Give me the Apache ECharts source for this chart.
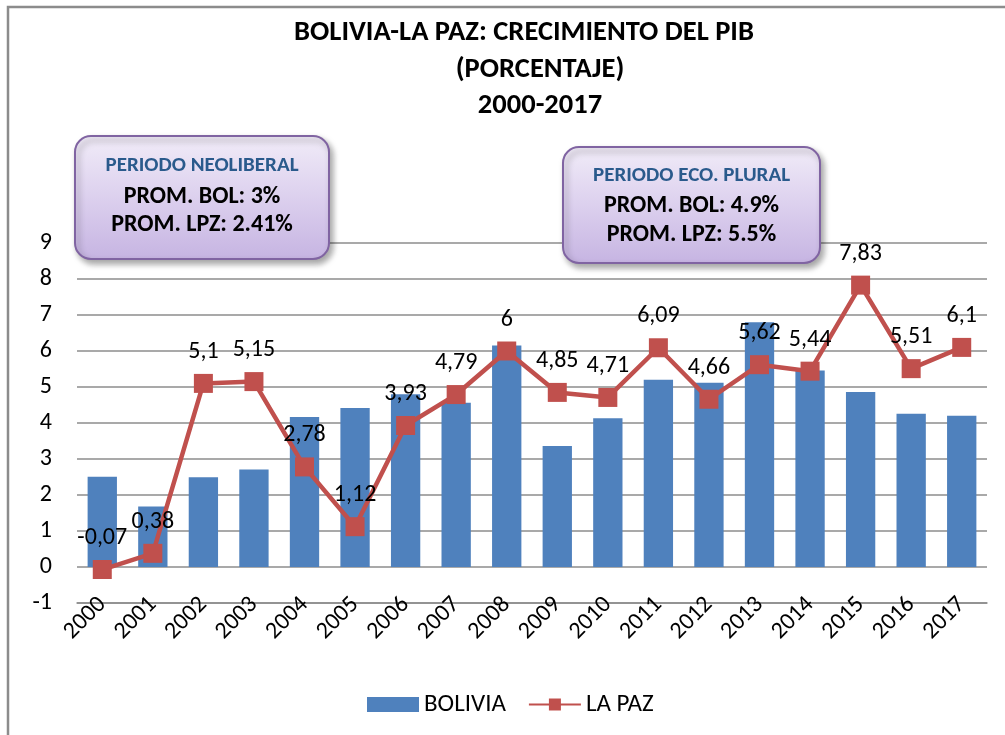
<!DOCTYPE html>
<html>
<head>
<meta charset="utf-8">
<script src="https://cdn.jsdelivr.net/npm/echarts@6/dist/echarts.min.js"></script>
<style>
html,body{margin:0;padding:0;background:#fff;}
#chart{width:1005px;height:735px;}
</style>
</head>
<body>
<div id="chart"></div>
<script>
var years = ['2000','2001','2002','2003','2004','2005','2006','2007','2008','2009','2010','2011','2012','2013','2014','2015','2016','2017'];
var bolivia = [2.51,1.68,2.49,2.71,4.17,4.42,4.80,4.56,6.15,3.36,4.13,5.20,5.12,6.80,5.46,4.86,4.26,4.20];
var laPaz = [-0.07,0.38,5.1,5.15,2.78,1.12,3.93,4.79,6,4.85,4.71,6.09,4.66,5.62,5.44,7.83,5.51,6.1];
var titleLines = ['BOLIVIA-LA PAZ: CRECIMIENTO DEL PIB','(PORCENTAJE)','2000-2017'];
var box1Lines = ['PERIODO NEOLIBERAL','PROM. BOL: 3%','PROM. LPZ: 2.41%'];
var box2Lines = ['PERIODO ECO. PLURAL','PROM. BOL: 4.9%','PROM. LPZ: 5.5%'];
var yTicks = {min:-1, max:9, interval:1};

var FONT = 'Carlito, Lato, "Open Sans", sans-serif';
var chart = echarts.init(document.getElementById('chart'), null, {renderer:'canvas'});

function boxGroup(x, y, w, h, lines, ys) {
  var cx = w / 2;
  return {
    type: 'group', x: x, y: y, z: 100,
    children: [
      {type:'rect', z:100, shape:{x:0,y:0,width:w,height:h,r:16},
       style:{
         fill: new echarts.graphic.LinearGradient(0,0,0,1,[
           {offset:0,color:'#F1ECF8'},{offset:0.5,color:'#DCD0EE'},{offset:1,color:'#C6B4E2'}]),
         stroke:'#8064A2', lineWidth:2,
         shadowBlur:6, shadowOffsetX:3, shadowOffsetY:4, shadowColor:'rgba(0,0,0,0.35)'}},
      {type:'text', z:101, style:{text:lines[0], x:cx, y:ys[0], textAlign:'center', textVerticalAlign:'middle',
        fontFamily:FONT, fontWeight:'bold', fontSize:21, fill:'#2A5A8C'}},
      {type:'text', z:101, style:{text:lines[1], x:cx, y:ys[1], textAlign:'center', textVerticalAlign:'middle',
        fontFamily:FONT, fontWeight:'bold', fontSize:24, fill:'#000'}},
      {type:'text', z:101, style:{text:lines[2], x:cx, y:ys[2], textAlign:'center', textVerticalAlign:'middle',
        fontFamily:FONT, fontWeight:'bold', fontSize:24, fill:'#000'}}
    ]
  };
}

var option = {
  animation: false,
  textStyle: {fontFamily: FONT},
  grid: {left:77, right:18, top:243, bottom:132, containLabel:false},
  legend: {
    left: 362, top: 687,
    itemWidth: 52, itemHeight: 15, itemGap: 22,
    textStyle: {fontSize:25, color:'#000', fontFamily:FONT},
    data: [{name:'BOLIVIA', icon:'rect'}, {name:'LA PAZ'}]
  },
  xAxis: {
    type:'category', data: years, boundaryGap:true,
    axisLine:{onZero:false, lineStyle:{color:'#8C8C8C', width:1.5}},
    axisTick:{show:false},
    axisLabel:{rotate:45, margin:-2, fontSize:24, color:'#000', fontFamily:FONT, interval:0}
  },
  yAxis: {
    type:'value', min:yTicks.min, max:yTicks.max, interval:yTicks.interval,
    axisLine:{show:false}, axisTick:{show:false},
    axisLabel:{fontSize:24, color:'#000', margin:25, fontFamily:FONT},
    splitLine:{lineStyle:{color:'#8C8C8C', width:1.5}}
  },
  series: [
    {name:'BOLIVIA', type:'bar', data: bolivia, barWidth:'58%', itemStyle:{color:'#4F81BD'}, z:2},
    {name:'LA PAZ', type:'line', data: laPaz, symbol:'rect', symbolSize:19, z:5,
     lineStyle:{color:'#C0504D', width:4.5}, itemStyle:{color:'#C0504D'},
     label:{show:true, position:'top', distance:10, fontSize:24, color:'#000', fontFamily:FONT,
       formatter:function(p){return String(p.value).replace('.', ',');}}}
  ],
  graphic: [
    {type:'rect', z:0, silent:true, shape:{x:8,y:7,width:1200,height:900},
     style:{fill:'transparent', stroke:'#8C8C8C', lineWidth:2.5}},
    {type:'text', z:100, style:{text:titleLines[0], x:524, y:33, textAlign:'center', textVerticalAlign:'middle',
      fontFamily:FONT, fontWeight:'bold', fontSize:28.5, fill:'#000'}},
    {type:'text', z:100, style:{text:titleLines[1], x:540, y:70, textAlign:'center', textVerticalAlign:'middle',
      fontFamily:FONT, fontWeight:'bold', fontSize:28.5, fill:'#000'}},
    {type:'text', z:100, style:{text:titleLines[2], x:540, y:106, textAlign:'center', textVerticalAlign:'middle',
      fontFamily:FONT, fontWeight:'bold', fontSize:28.5, fill:'#000'}},
    boxGroup(75, 136, 254, 123, box1Lines, [30, 61, 89]),
    boxGroup(563, 147, 257, 116, box2Lines, [29, 59, 88])
  ]
};
chart.setOption(option);
</script>
</body>
</html>
